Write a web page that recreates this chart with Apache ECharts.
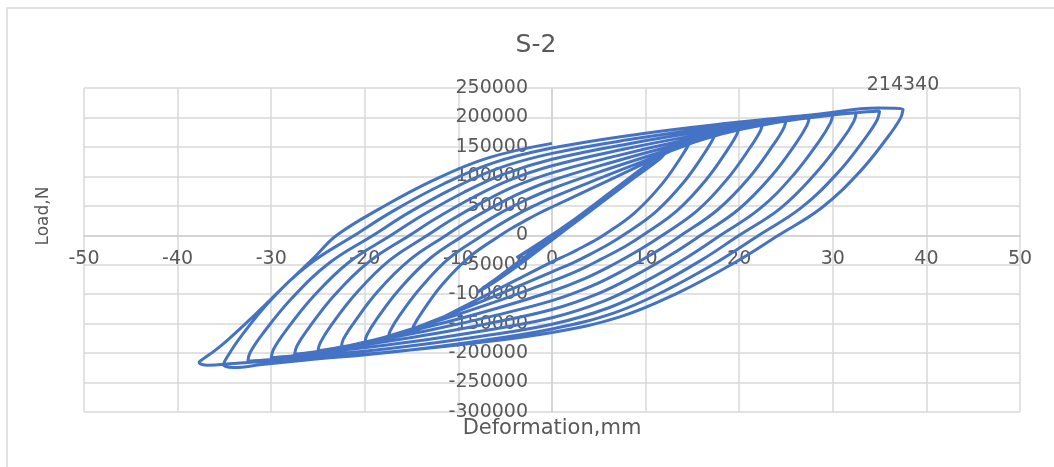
<!DOCTYPE html>
<html><head><meta charset="utf-8">
<script src="https://cdn.jsdelivr.net/npm/echarts@6/dist/echarts.min.js"></script>
<style>html,body{margin:0;padding:0;background:#fff}#chart{width:1054px;height:467px}</style>
</head><body><div id="chart"></div>
<script>
// Deformation (mm), Load (N)
const elastic = [[0,0],[1.5,17000],[3,33000],[4.2,42000],[3.4,35000],[1.8,19000],[0,1000],[-1.5,-15000],[-3,-30000],[-3.8,-38000],[-3,-31000],[-1.2,-12000],[0.5,6000],[2.5,28000],[5,58000],[7.5,88000],[10,117000],[12,138000],[11.4,128000],[9,100000],[6.5,70000],[4,40000],[1.5,10000],[-1,-20000],[-3.5,-50000],[-6,-78000],[-8,-97000],[-7.4,-90000],[-5.5,-68000],[-3,-38000],[-0.5,-8000],[2,22000],[4.5,52000],[7,82000],[9.5,112000],[12,140000],[13.8,158000]];
const cycle1 = [[15,172000],[14.8,160000],[13.85,134200],[11.7,86000],[8.8,37800],[5.5,0],[4.4,-10400],[3,-22100],[1.65,-33100],[0,-45000],[-3.75,-75300],[-7.5,-105500],[-11.25,-135800],[-13.95,-157500],[-15,-166000],[-14.8,-154400],[-13.85,-129500],[-11.7,-83000],[-8.8,-36500],[-5.5,0],[-4.4,11000],[-3,23500],[-1.65,35300],[0,48000],[4.4,80800],[8.75,113500],[13.1,146300],[16.3,169800]];
const cycle2 = [[17.5,179000],[17.3,166500],[16.3,139600],[14.05,89500],[11.05,39400],[7.6,0],[6.1,-14700],[4.2,-31100],[2.3,-46300],[0,-62000],[-4.4,-91700],[-8.75,-120400],[-13.1,-148000],[-16.3,-167500],[-17.5,-175000],[-17.3,-162800],[-16.3,-136500],[-13.95,-87500],[-10.95,-38500],[-7.4,0],[-5.9,15200],[-4.1,32100],[-2.2,47800],[0,64000],[5,96100],[10,127100],[15,156800],[18.6,178000]];
const cycle3 = [[20,186000],[19.8,173000],[18.75,145100],[16.4,93000],[13.3,40900],[9.7,0],[7.8,-19000],[5.3,-40100],[2.9,-59100],[0,-78000],[-5,-107100],[-10,-134000],[-15,-159100],[-18.6,-176600],[-20,-183000],[-19.8,-170200],[-18.75,-142700],[-16.3,-91500],[-13.1,-40300],[-9.4,0],[-7.5,19200],[-5.2,40600],[-2.8,59900],[0,79000],[5.6,110300],[11.25,139200],[16.9,166200],[20.9,185100]];
const cycle4 = [[22.5,192000],[22.3,178600],[21.2,149800],[18.75,96000],[15.55,42200],[11.8,0],[9.45,-23800],[6.5,-50100],[3.55,-73200],[0,-95000],[-5.6,-122600],[-11.25,-147300],[-16.9,-169400],[-20.9,-184600],[-22.5,-190000],[-22.3,-176700],[-21.15,-148200],[-18.6,-95000],[-15.2,-41800],[-11.3,0],[-9.05,23300],[-6.2,49000],[-3.4,71600],[0,93000],[6.25,123200],[12.5,150200],[18.75,174400],[23.25,191100]];
const cycle5 = [[25,197000],[24.8,183200],[23.65,153700],[21.1,98500],[17.7,43300],[13.8,0],[11.05,-28500],[7.6,-59800],[4.15,-86800],[0,-111000],[-6.25,-136800],[-12.5,-159200],[-18.75,-178500],[-23.25,-191600],[-25,-196000],[-24.75,-182300],[-23.6,-152900],[-20.9,-98000],[-17.4,-43100],[-13.3,0],[-10.65,27200],[-7.3,57100],[-4,82900],[0,106000],[6.9,134800],[13.75,159900],[20.6,181400],[25.6,196100]];
const cycle6 = [[27.5,201000],[27.25,186900],[26.1,156800],[23.45,100500],[19.95,44200],[15.9,0],[12.7,-33100],[8.75,-69400],[4.8,-99900],[0,-126000],[-6.9,-150100],[-13.75,-170300],[-20.6,-187300],[-25.6,-198400],[-27.5,-202000],[-27.25,-187900],[-26,-157600],[-23.2,-101000],[-19.5,-44400],[-15.2,0],[-12.15,31000],[-8.35,65000],[-4.55,93600],[0,118000],[7.5,145600],[15,168700],[22.5,188100],[27.9,200800]];
const cycle7 = [[30,205000],[29.75,190700],[28.55,159900],[25.8,102500],[22.2,45100],[18,0],[14.4,-37800],[9.9,-78800],[5.4,-112700],[0,-140000],[-7.5,-162400],[-15,-180800],[-22.5,-195600],[-27.9,-205100],[-30,-208000],[-29.75,-193400],[-28.45,-162200],[-25.5,-104000],[-21.7,-45800],[-17.2,0],[-13.75,34800],[-9.45,72600],[-5.15,103800],[0,129000],[8.1,155100],[16.25,176400],[24.4,193500],[30.2,204600]];
const cycle8 = [[32.5,208000],[32.25,193400],[31,162200],[28.1,104000],[24.4,45800],[20,0],[16,-41800],[11,-87000],[6,-123400],[0,-151000],[-8.1,-172600],[-16.25,-189900],[-24.4,-203200],[-30.2,-211500],[-32.5,-214000],[-32.25,-199000],[-30.9,-166900],[-27.8,-107000],[-23.8,-47100],[-19.1,0],[-15.3,38500],[-10.5,80100],[-5.75,113600],[0,139000],[8.75,163700],[17.5,183400],[26.25,198600],[32.55,208200]];
const cycle9 = [[35,211000],[34.75,196200],[33.45,164600],[30.5,105500],[26.6,46400],[22.1,0],[17.7,-45000],[12.15,-93500],[6.65,-131700],[0,-159000],[-8.75,-181500],[-17.5,-198900],[-26.25,-211900],[-31,-219500],[-34,-224500],[-35.1,-220000],[-34.7,-206500],[-33.3,-173200],[-30.1,-111000],[-25.9,-48800],[-21.1,0],[-16.9,41900],[-11.6,87000],[-6.35,122500],[0,148000],[9.4,172000],[18.75,190000],[28.1,205000],[34.9,216000]];
const cycle10 = [[37.5,214340],[37.25,199300],[35.9,167200],[32.85,107200],[28.85,47200],[24.2,0],[19.35,-47900],[13.3,-99000],[7.25,-138600],[0,-165000],[-9.4,-185000],[-18.75,-200100],[-28.1,-210900],[-34,-217500],[-36.8,-220500],[-37.7,-216000],[-37.2,-209000],[-36.2,-198000],[-34.6,-177000],[-32.4,-145000],[-28,-77000],[-25.3,-36000],[-23,0],[-18.4,45200],[-12.65,93600],[-6.9,131000],[0,156000]];
const peakPoint = cycle10[0];

const loops = [elastic, cycle1, cycle2, cycle3, cycle4, cycle5, cycle6, cycle7, cycle8, cycle9, cycle10];
const points = loops.flat();

const FONT = 'DejaVu Sans';
const TXT = '#595959';
const GRID = {left: 84, right: 34, top: 88, bottom: 55};
const chart = echarts.init(document.getElementById('chart'));
// place the axes on the zero lines (like the original spreadsheet chart)
const plotW = 1054 - GRID.left - GRID.right, plotH = 467 - GRID.top - GRID.bottom;
const xZeroOffset = -plotH * (0 - (-300000)) / (250000 - (-300000));
const yZeroOffset = -plotW * (0 - (-50)) / (50 - (-50));
chart.setOption({
  animation: false,
  backgroundColor: '#fff',
  title: {
    text: 'S-2', left: 536, top: 33, textAlign: 'center', padding: 0,
    textStyle: {color: TXT, fontSize: 25, fontWeight: 'normal', fontFamily: FONT}
  },
  graphic: [{
    type: 'rect', shape: {x: 7, y: 8, width: 1100, height: 500}, silent: true, z: -10,
    style: {fill: 'none', stroke: '#d9d9d9', lineWidth: 1.5}
  }],
  grid: Object.assign({containLabel: false, outerBoundsMode: 'none'}, GRID),
  xAxis: {
    type: 'value', min: -50, max: 50, interval: 10, offset: xZeroOffset,
    axisLine: {onZero: false, lineStyle: {color: '#d0d0d0', width: 1.5}},
    axisTick: {show: false},
    axisLabel: {color: TXT, fontSize: 19, fontFamily: FONT, margin: 14, formatter: v => String(v)},
    splitLine: {show: true, lineStyle: {color: '#d9d9d9', width: 1.5}},
    name: 'Deformation,mm', nameLocation: 'middle', nameGap: 183,
    nameTextStyle: {color: TXT, fontSize: 21, fontFamily: FONT}
  },
  yAxis: {
    type: 'value', min: -300000, max: 250000, interval: 50000, offset: yZeroOffset,
    axisLine: {show: true, onZero: false, lineStyle: {color: '#d0d0d0', width: 1.5}},
    axisTick: {show: false},
    axisLabel: {color: TXT, fontSize: 19, fontFamily: FONT, margin: 24, formatter: v => String(v)},
    splitLine: {show: true, lineStyle: {color: '#d9d9d9', width: 1.5}},
    name: 'Load,N', nameLocation: 'middle', nameGap: 500,
    nameTextStyle: {color: TXT, fontSize: 17, fontFamily: FONT, padding: [0, 0, 0, 68]}
  },
  series: [{
    type: 'line', data: points, smooth: 0.4, showSymbol: false,
    lineStyle: {color: '#4472C4', width: 3}, itemStyle: {color: '#4472C4'},
    markPoint: {
      symbol: 'circle', symbolSize: 1, itemStyle: {color: 'rgba(0,0,0,0)'},
      label: {show: true, position: 'top', distance: 14, color: TXT, fontSize: 19, fontFamily: FONT,
        formatter: p => String(p.value)},
      data: [{coord: peakPoint, value: peakPoint[1]}]
    }
  }]
});
</script></body></html>
